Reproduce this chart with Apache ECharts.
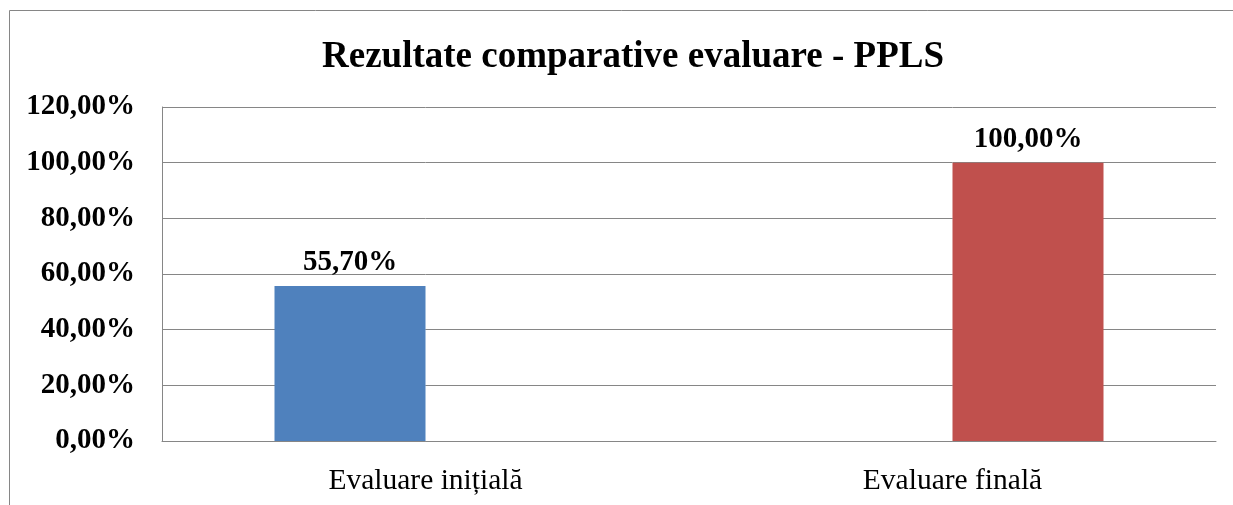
<!DOCTYPE html>
<html>
<head>
<meta charset="utf-8">
<script src="https://cdn.jsdelivr.net/npm/echarts@6/dist/echarts.min.js"></script>
<style>
  html, body { margin: 0; padding: 0; background: #fff; }
  #main { width: 1233px; height: 505px; }
</style>
</head>
<body>
<div id="main"></div>
<script>
const categories = ['Evaluare inițială', 'Evaluare finală'];
const initialValues = [55.7, null];
const finalValues = [null, 100];
const yTicks = [0, 20, 40, 60, 80, 100, 120];

const fmt = v => v.toFixed(2).replace('.', ',') + '%';
const font = '"Liberation Serif", "Times New Roman", serif';

const labelStyle = {
    show: true,
    position: 'top',
    distance: 9,
    fontFamily: font,
    fontWeight: 'bold',
    fontSize: 29,
    color: '#000',
    formatter: p => fmt(p.value)
};

const myChart = echarts.init(document.getElementById('main'));
myChart.setOption({
    animation: false,
    title: {
        text: 'Rezultate comparative evaluare - PPLS',
        left: 628,
        textAlign: 'center',
        top: 34,
        textStyle: { fontFamily: font, fontWeight: 'bold', fontSize: 37, color: '#000' }
    },
    graphic: [
        { type: 'line', shape: { x1: 9.5, y1: 10.5, x2: 1233, y2: 10.5 }, style: { stroke: '#868686', lineWidth: 1 } },
        { type: 'line', shape: { x1: 9.5, y1: 10.5, x2: 9.5, y2: 505 }, style: { stroke: '#868686', lineWidth: 1 } }
    ],
    grid: { left: 162, right: 17, top: 107, bottom: 64, containLabel: false },
    xAxis: {
        type: 'category',
        data: categories,
        axisLine: { lineStyle: { color: '#868686' } },
        axisTick: { show: false },
        axisLabel: { fontFamily: font, fontSize: 29.5, color: '#000', margin: 25 }
    },
    yAxis: {
        type: 'value',
        min: yTicks[0],
        max: yTicks[yTicks.length - 1],
        interval: 20,
        axisLine: { show: true, lineStyle: { color: '#868686' } },
        axisTick: { show: false },
        splitLine: { lineStyle: { color: '#868686' } },
        axisLabel: {
            fontFamily: font, fontWeight: 'bold', fontSize: 29, color: '#000', margin: 27,
            formatter: v => fmt(v)
        }
    },
    series: [
        {
            name: categories[0], type: 'bar', data: initialValues,
            barWidth: 151, barGap: '0%',
            itemStyle: { color: '#4f81bd' },
            label: labelStyle
        },
        {
            name: categories[1], type: 'bar', data: finalValues,
            barWidth: 151,
            itemStyle: { color: '#c0504d' },
            label: labelStyle
        }
    ]
});
</script>
</body>
</html>
